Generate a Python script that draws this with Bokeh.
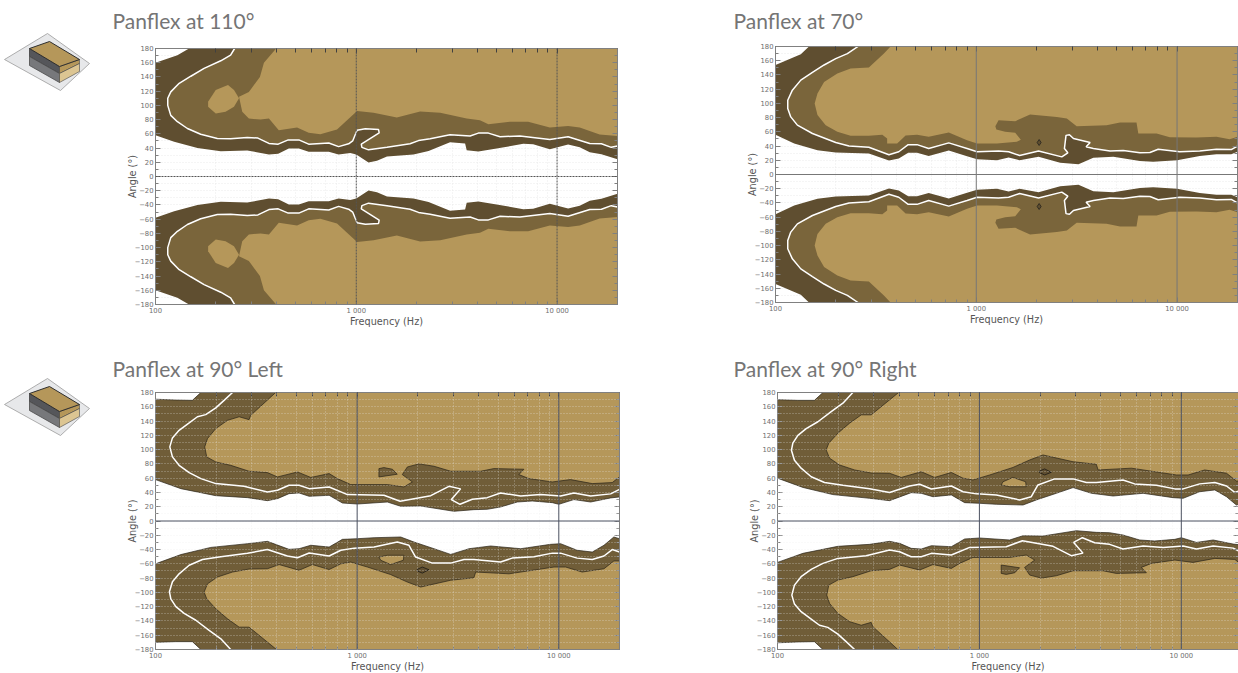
import numpy as np
from bokeh.embed import file_html
from bokeh.resources import INLINE
from bokeh.plotting import figure
from bokeh.layouts import row, column
from bokeh.models import FixedTicker, LinearAxis, LogAxis, Range1d, Span, Title

TITLES = ["Panflex at 110°", "Panflex at 70°", "Panflex at 90° Left", "Panflex at 90° Right"]
X_LABEL = "Frequency (Hz)"
Y_LABEL = "Angle (°)"
F_TICKS = [100, 1000, 10000]
F_TICK_TEXT = {100: "100", 1000: "1 000", 10000: "10 000"}
F_MINOR = [200, 300, 400, 500, 600, 700, 800, 900, 2000, 3000, 4000, 5000, 6000, 7000, 8000, 9000, 20000]
A_TICKS = list(range(-180, 181, 20))
A_MINOR = list(range(-170, 180, 20))
TOP_LOG = 4.301
LIGHT, MID, DARK, BAND = "#b5975a", "#7a653b", "#5f4e30", "#705d38"

# log10(frequency in Hz) and angle (degrees)
A_LINE_F = [2.394,2.374,2.325,2.242,2.176,2.118,2.076,2.061,2.061,2.076,2.109,2.159,2.225,2.308,2.374,2.457,2.510,2.565,2.611,2.661,2.714,2.763,2.863,2.912,2.962,2.982,3.004,3.045,3.111,3.114,3.025,3.028,3.061,3.153,3.268,3.310,3.368,3.467,3.567,3.608,3.658,3.716,3.815,3.964,4.055,4.163,4.221,4.270,4.301]
A_LINE_A = [180,170.6,162.7,152,141,131,119,110,100,86,77,67.5,59.5,53.5,53,55,54,46.5,45.5,51.5,51.5,45.5,47,42,46,50,65,67,66,61.5,45.5,41,37.5,41,46,50.5,53,58.6,57,61,61,56,57,52,56,46.5,46,41,43]
A_LIGHT_F = [2.601,2.540,2.520,2.465,2.416,2.432,2.465,2.523,2.565,2.614,2.705,2.763,2.821,2.904,2.954,3.004,3.086,3.202,3.318,3.418,3.550,3.616,3.658,3.765,3.856,3.964,4.055,4.113,4.212,4.301]
A_LIGHT_A = [180,160,140,119,112,91,81.5,80,81.5,65,69,61.5,59.5,66,79,92,89.5,83,91.5,89.5,81.5,79,73.5,77,77,69,71,69,59,57]
A_ISLE_F = [2.262,2.300,2.361,2.391,2.416,2.391,2.349,2.300,2.262]
A_ISLE_A = [105,121.5,128.5,121.5,110,98,91,88.5,98]
A_CORNER_F = [2.0,2.109,2.167]
A_CORNER_A = [160,170.6,180]
A_OUTER_F = [2.0,2.093,2.209,2.325,2.457,2.565,2.611,2.664,2.714,2.763,2.863,2.912,2.970,3.0,3.061,3.103,3.153,3.285,3.360,3.467,3.542,3.550,3.608,3.699,3.832,3.881,3.964,4.055,4.113,4.163,4.221,4.301]
A_OUTER_A = [58,49,40,35.6,36.6,31,32,39.4,39.4,34.7,34.7,31,33,31,19.7,22,28,31,36,48,46.4,37,35,39.4,46,45.5,38.4,45,41,34,31.4,24.4]

B_LINE_F = [2.411,2.358,2.300,2.242,2.184,2.126,2.084,2.061,2.061,2.076,2.109,2.184,2.300,2.366,2.465,2.565,2.614,2.661,2.705,2.763,2.863,2.954,3.004,3.111,3.161,3.216,3.310,3.426,3.456,3.439,3.447,3.464,3.484,3.567,3.547,3.583,3.666,3.732,3.815,3.865,3.906,4.013,4.113,4.196,4.270,4.301]
B_LINE_A = [180,170,163,154,143.5,132.7,118.6,104.5,92.8,81,69.4,57.7,45,40,38.4,27.7,32,42,42,36.6,44.5,36.6,32,33,32,26.7,33,24.8,30.5,36.6,55,56,50.6,45,39,36.6,33,33.8,30.5,31,35.6,32,33,35.6,35,40]
B_LIGHT_F = [2.573,2.540,2.465,2.374,2.308,2.242,2.209,2.195,2.209,2.250,2.308,2.374,2.465,2.532,2.556,2.556,2.606,2.648,2.705,2.763,2.863,2.954,3.004,3.103,3.202,3.222,3.194,3.144,3.100,3.095,3.111,3.194,3.268,3.401,3.451,3.500,3.649,3.716,3.798,3.807,3.898,3.964,4.096,4.196,4.262,4.301]
B_LIGHT_A = [180,170,150.5,149,142,130,114,100,83.5,69.4,60,54.4,54.4,56,50.6,43.6,43.6,55,56,53,59,48,43.6,43.6,46,49,58.6,60,63.3,68,76.4,75,84.4,81,78.8,68,69.4,73,73,57.7,57.7,52.4,52,53,49.7,53]
B_CORNER_F = [2.0,2.126,2.167]
B_CORNER_A = [154,169,180]
B_OUTER_F = [2.0,2.093,2.209,2.300,2.465,2.565,2.614,2.661,2.705,2.763,2.863,2.954,3.004,3.103,3.161,3.216,3.310,3.418,3.509,3.583,3.683,3.815,3.881,4.0,4.113,4.196,4.270,4.301]
B_OUTER_A = [56,43.6,34,31,29.5,19.7,22.5,30.5,30.5,26,33.8,25.8,21.6,20,24,20,25,16.4,14.5,23.4,25,19,17.8,20,26,28.6,28.6,32]
B_SPOT_F = [3.313]
B_SPOT_A = [45]

C_UP_LINE_F = [2.382,2.340,2.299,2.249,2.208,2.167,2.117,2.084,2.071,2.084,2.117,2.167,2.225,2.299,2.439,2.555,2.605,2.662,2.712,2.762,2.861,2.952,3.133,3.213,3.365,3.455,3.513,3.467,3.510,3.571,3.645,3.711,3.811,3.910,4.009,4.075,4.158,4.257,4.301]
C_UP_LINE_A = [180,169,158.5,149,146,137.4,127,116.4,103.8,89.8,78,67.8,59.4,52.4,48.6,40.7,43,50,50,45.3,47.7,37,36,27.6,35.5,48.6,45,30,23.4,30.4,32.7,39.3,35,37,35,39.3,35,38,44.4]
C_UP_LIGHT_F = [2.596,2.472,2.464,2.415,2.357,2.299,2.258,2.244,2.254,2.299,2.373,2.464,2.555,2.605,2.704,2.770,2.861,2.902,2.968,3.150,3.232,3.274,3.224,3.249,3.307,3.381,3.464,3.612,3.678,3.827,3.802,3.852,3.968,4.058,4.166,4.265,4.301]
C_UP_LIGHT_A = [180,148,142,146,141,129.5,115.5,103.8,89.8,82.7,78,69.7,67.8,61.7,68.7,61,66.4,59.4,51,51,47.7,54.7,65,75.7,80,76.7,69.7,69.7,73.4,72.5,65,59.4,54.7,58,52.4,53.8,61.7]
C_UP_ISLE_F = [3.108,3.108,3.199,3.175,3.133]
C_UP_ISLE_A = [73.4,61.7,65.5,72.5,74.8]
C_UP_CORNER_F = [2.0,2.1,2.183,2.225]
C_UP_CORNER_A = [170.6,169.5,169,180]
C_UP_OUTER_F = [2.0,2.126,2.299,2.456,2.555,2.605,2.662,2.712,2.762,2.861,2.927,3.001,3.150,3.216,3.315,3.480,3.579,3.645,3.711,3.794,3.868,3.968,4.0,4.075,4.158,4.257,4.301]
C_UP_OUTER_A = [58,45.3,35.5,32.7,28.5,31.3,38.3,39.3,34.6,36,25.2,23.8,26.6,20.6,21,13.6,15.9,16.4,19.6,26.6,28,25.7,23.4,30,26.6,32.3,33.7]

C_LO_LINE_F = [2.373,2.324,2.266,2.200,2.142,2.101,2.076,2.069,2.084,2.117,2.167,2.233,2.324,2.456,2.555,2.654,2.704,2.762,2.861,2.919,2.985,3.084,3.199,3.257,3.290,3.373,3.464,3.530,3.579,3.711,3.769,3.877,3.968,4.009,4.091,4.166,4.224,4.265,4.301]
C_LO_LINE_A = [-180,-165,-153.3,-139,-129.5,-120,-109,-99,-85,-74,-62,-54,-50,-45.3,-40,-49,-51.4,-44.9,-49,-41,-38,-36.5,-29.5,-34,-50.5,-59,-59,-54,-54,-57.5,-52,-50,-45,-45,-52,-54,-49,-40,-43.5]
C_LO_LIGHT_F = [2.600,2.464,2.415,2.357,2.299,2.254,2.241,2.258,2.307,2.382,2.464,2.555,2.613,2.712,2.778,2.861,2.919,2.968,3.051,3.166,3.249,3.315,3.464,3.579,3.588,3.753,3.976,4.034,4.116,4.224,4.273,4.301]
C_LO_LIGHT_A = [-180,-148.7,-148.7,-137,-123,-109,-99.6,-88,-78.5,-71.5,-67.3,-66.9,-61,-69,-61,-68,-60,-57.5,-64.5,-75,-85.5,-92.5,-83,-79.5,-71.5,-74,-64.5,-64.5,-71.5,-66.9,-56,-56]
C_LO_LENS_F = [3.108,3.150,3.232,3.229,3.166,3.117]
C_LO_LENS_A = [-50.5,-48,-48,-55,-61,-55]
C_LO_SPOT_F = [3.298,3.323,3.356,3.323,3.298]
C_LO_SPOT_A = [-67.8,-64.5,-68.2,-73,-70]
C_LO_CORNER_F = [2.0,2.1,2.183,2.225]
C_LO_CORNER_A = [-170,-169,-169,-180]
C_LO_OUTER_F = [2.0,2.126,2.274,2.456,2.555,2.662,2.712,2.770,2.861,2.927,3.001,3.084,3.216,3.282,3.381,3.464,3.555,3.662,3.811,3.959,4.009,4.091,4.166,4.224,4.273,4.301]
C_LO_OUTER_A = [-60,-47,-37,-31.8,-28.5,-39.7,-38.8,-34,-36.5,-25.7,-24.8,-23.4,-22.4,-29.5,-38.8,-46.8,-38.8,-35,-38.8,-32.7,-31.8,-41,-43.5,-34,-22.4,-24.8]

# icon outlines in page pixels
ICON_PLATE_X = [4, 47, 89, 60]
ICON_PLATE_Y = [59, 33, 63, 90]
ICON_TOP_X = [29, 49, 79, 59]
ICON_TOP_Y = [48, 41, 59, 66]
ICON_DARK_X = [29, 59, 59, 29]
ICON_DARK_Y = [48, 66, 73, 56]
ICON_GREY_X = [29, 59, 59, 29]
ICON_GREY_Y = [56, 73, 82, 65]
ICON_TAN_X = [59, 79, 79, 59]
ICON_TAN_Y = [66, 59, 63, 73]
ICON_PALE_X = [59, 79, 79, 59]
ICON_PALE_Y = [73, 63, 71, 82]


def hz(a):
    return 10.0 ** np.asarray(a, dtype=float)


def fill(p, f, a, color, line=None):
    p.patch(hz(f), list(a), fill_color=color, line_color=line, line_width=0.7 if line else 0)


def region(p, corner_f, corner_a, outer_f, outer_a, line_f, line_a, light_f, light_a, sign, color, band, contour):
    """One half of a chart: outer level, level behind the white line, inner level."""
    top = 180 * sign
    fill(p, list(corner_f) + [TOP_LOG, TOP_LOG] + list(outer_f)[::-1],
         list(corner_a) + [top, outer_a[-1]] + list(outer_a)[::-1], color, contour)
    fill(p, list(line_f) + [TOP_LOG], list(line_a) + [top], band)
    fill(p, list(light_f) + [TOP_LOG], list(light_a) + [top], LIGHT, contour)


def neg(a):
    return [-v for v in a]


def white_line(p, f, a):
    p.line(hz(f), list(a), line_color="white", line_width=1.5)


def chart(title, title_offset, title_standoff, left, top, fw, fh, right, bottom, x_end, dotted, lift=0):
    p = figure(x_axis_type="log", x_range=Range1d(100, x_end), y_range=Range1d(-180, 180),
               frame_width=fw, frame_height=fh,
               min_border_left=left, min_border_top=top, min_border_right=right, min_border_bottom=bottom,
               output_backend="svg", toolbar_location=None, background_fill_color="white",
               outline_line_color="#808080", margin=(-lift, 0, 0, 0))
    xt = FixedTicker(ticks=F_TICKS, minor_ticks=F_MINOR)
    yt = FixedTicker(ticks=A_TICKS, minor_ticks=A_MINOR)
    ax, ay = p.xaxis[0], p.yaxis[0]
    ax.ticker = xt
    ay.ticker = yt
    ax.major_label_overrides = F_TICK_TEXT
    ax.axis_label, ay.axis_label = X_LABEL, Y_LABEL
    for a in (ax, ay):
        a.axis_label_text_font = "DejaVu Sans"
        a.axis_label_text_font_size = "9.7px"
        a.axis_label_text_font_style = "normal"
        a.axis_label_text_color = "#555555"
        a.major_label_text_font = "DejaVu Sans"
        a.major_label_text_font_size = "6.8px"
        a.major_label_text_color = "#707070"
        a.axis_line_color = "#808080"
        a.major_tick_line_color = "#808080"
        a.minor_tick_line_color = "#808080"
        a.major_tick_in = 5
        a.major_tick_out = 0
        a.minor_tick_in = 3
        a.minor_tick_out = 0
        a.major_label_standoff = 2
    ax.axis_label_standoff = -2
    ay.axis_label_standoff = -6
    for g, t in ((p.xgrid[0], xt), (p.ygrid[0], yt)):
        g.ticker = t
        g.level = "overlay" if dotted else "underlay"
        g.grid_line_color = "#e8e8e8"
        g.grid_line_dash = "1 2"
        g.grid_line_width = 0.9
        g.minor_grid_line_color = "#e8e8e8"
        g.minor_grid_line_dash = "1 2"
        g.minor_grid_line_width = 0.9
        if dotted:
            g.grid_line_alpha = 0.55
            g.minor_grid_line_alpha = 0.55
    ra = LinearAxis(ticker=yt, major_label_text_font_size="1px", major_label_text_color=None, major_label_standoff=0,
                    axis_line_color="#808080", major_tick_line_color="#808080", minor_tick_line_color="#808080",
                    major_tick_in=5, major_tick_out=0, minor_tick_in=3, minor_tick_out=0)
    ta = LogAxis(ticker=xt, major_label_text_font_size="1px", major_label_text_color=None, major_label_standoff=0,
                 axis_line_color="#808080", major_tick_line_color="#404040", minor_tick_line_color="#404040",
                 major_tick_in=5, major_tick_out=0, minor_tick_in=4, minor_tick_out=0)
    p.add_layout(ra, "right")
    p.add_layout(ta, "above")
    p.add_layout(Title(text=title, align="left", vertical_align="top", offset=title_offset, standoff=title_standoff,
                       text_font="Lato", text_font_size="21px", text_font_style="normal",
                       text_color="#757575"), "above")
    return p


def majors(p, color, dash):
    for f in F_TICKS[1:]:
        p.add_layout(Span(location=f, dimension="height", line_color=color, line_width=1.0,
                          line_dash=dash, level="overlay"))
    p.add_layout(Span(location=0, dimension="width", line_color=color, line_width=1.0,
                      line_dash=dash, level="overlay"))


def spots(p, f, a):
    p.scatter(hz(f), a, marker="diamond", size=6, fill_color=DARK, line_color="#1a1a1a", line_width=0.7)


# Panflex at 110°
pa = chart(TITLES[0], -43, 28, 47, 56, 462, 256, 31, 36, 20000, False, lift=8)
region(pa, A_CORNER_F, A_CORNER_A, A_OUTER_F, A_OUTER_A, A_LINE_F, A_LINE_A, A_LIGHT_F, A_LIGHT_A, 1, DARK, MID, None)
fill(pa, A_ISLE_F, A_ISLE_A, LIGHT)
white_line(pa, A_LINE_F, A_LINE_A)
region(pa, A_CORNER_F, neg(A_CORNER_A), A_OUTER_F, neg(A_OUTER_A), A_LINE_F, neg(A_LINE_A), A_LIGHT_F, neg(A_LIGHT_A), -1, DARK, MID, None)
fill(pa, A_ISLE_F, neg(A_ISLE_A), LIGHT)
white_line(pa, A_LINE_F, neg(A_LINE_A))
majors(pa, "#555555", "2 1")

# Panflex at 70°
pb = chart(TITLES[1], -42, 24, 127, 52, 462, 256, 1, 38, 20000, False, lift=6)
region(pb, B_CORNER_F, B_CORNER_A, B_OUTER_F, B_OUTER_A, B_LINE_F, B_LINE_A, B_LIGHT_F, B_LIGHT_A, 1, DARK, MID, None)
spots(pb, B_SPOT_F, B_SPOT_A)
white_line(pb, B_LINE_F, B_LINE_A)
region(pb, B_CORNER_F, neg(B_CORNER_A), B_OUTER_F, neg(B_OUTER_A), B_LINE_F, neg(B_LINE_A), B_LIGHT_F, neg(B_LIGHT_A), -1, DARK, MID, None)
spots(pb, B_SPOT_F, neg(B_SPOT_A))
white_line(pb, B_LINE_F, neg(B_LINE_A))
majors(pb, "#777777", "solid")


def full_c(p, flip):
    def m(a):
        return neg(a) if flip else list(a)
    region(p, C_UP_CORNER_F, m(C_UP_CORNER_A), C_UP_OUTER_F, m(C_UP_OUTER_A), C_UP_LINE_F, m(C_UP_LINE_A),
           C_UP_LIGHT_F, m(C_UP_LIGHT_A), -1 if flip else 1, BAND, BAND, "#2a2418")
    fill(p, C_UP_ISLE_F, m(C_UP_ISLE_A), BAND, "#2a2418")
    white_line(p, C_UP_LINE_F, m(C_UP_LINE_A))
    region(p, C_LO_CORNER_F, m(C_LO_CORNER_A), C_LO_OUTER_F, m(C_LO_OUTER_A), C_LO_LINE_F, m(C_LO_LINE_A),
           C_LO_LIGHT_F, m(C_LO_LIGHT_A), 1 if flip else -1, BAND, BAND, "#2a2418")
    fill(p, C_LO_LENS_F, m(C_LO_LENS_A), LIGHT, "#2a2418")
    fill(p, C_LO_SPOT_F, m(C_LO_SPOT_A), DARK, "#111111")
    white_line(p, C_LO_LINE_F, m(C_LO_LINE_A))


# Panflex at 90° Left
pc = chart(TITLES[2], -43, 20, 47, 52, 464, 257, 29, 24, 20000, True)
full_c(pc, False)
majors(pc, "#4a5060", "solid")

# Panflex at 90° Right
pd_ = chart(TITLES[3], -44, 20, 129, 52, 461, 257, 1, 24, 19200, True)
full_c(pd_, True)
majors(pd_, "#4a5060", "solid")


def icon(height, y0):
    q = figure(x_range=Range1d(0, 108), y_range=Range1d(y0 + height, y0), width=108, height=height,
               min_border=0, output_backend="svg", toolbar_location=None, outline_line_color=None)
    q.axis.visible = False
    q.grid.visible = False
    q.patch(ICON_PLATE_X, ICON_PLATE_Y, fill_color="#e7e8ea", line_color="#9a9a9a", line_width=0.8)
    q.patch(ICON_DARK_X, ICON_DARK_Y, fill_color="#55565a", line_color="#3c3c3c", line_width=0.8)
    q.patch(ICON_GREY_X, ICON_GREY_Y, fill_color="#77787b", line_color="#4a4a4a", line_width=0.8)
    q.patch(ICON_TAN_X, ICON_TAN_Y, fill_color=LIGHT, line_color="#444444", line_width=0.6)
    q.patch(ICON_PALE_X, ICON_PALE_Y, fill_color="#dcc592", line_color="#444444", line_width=0.6)
    q.patch(ICON_TOP_X, ICON_TOP_Y, fill_color=LIGHT, line_color="#2f2f2f", line_width=1.0)
    return q


layout = column(
    row(column(icon(340, 0)), column(pa), column(pb), spacing=0),
    row(column(icon(333, -5)), column(pc), column(pd_), spacing=0),
    spacing=0,
)
open("out.html", "w").write(file_html(layout, INLINE))
